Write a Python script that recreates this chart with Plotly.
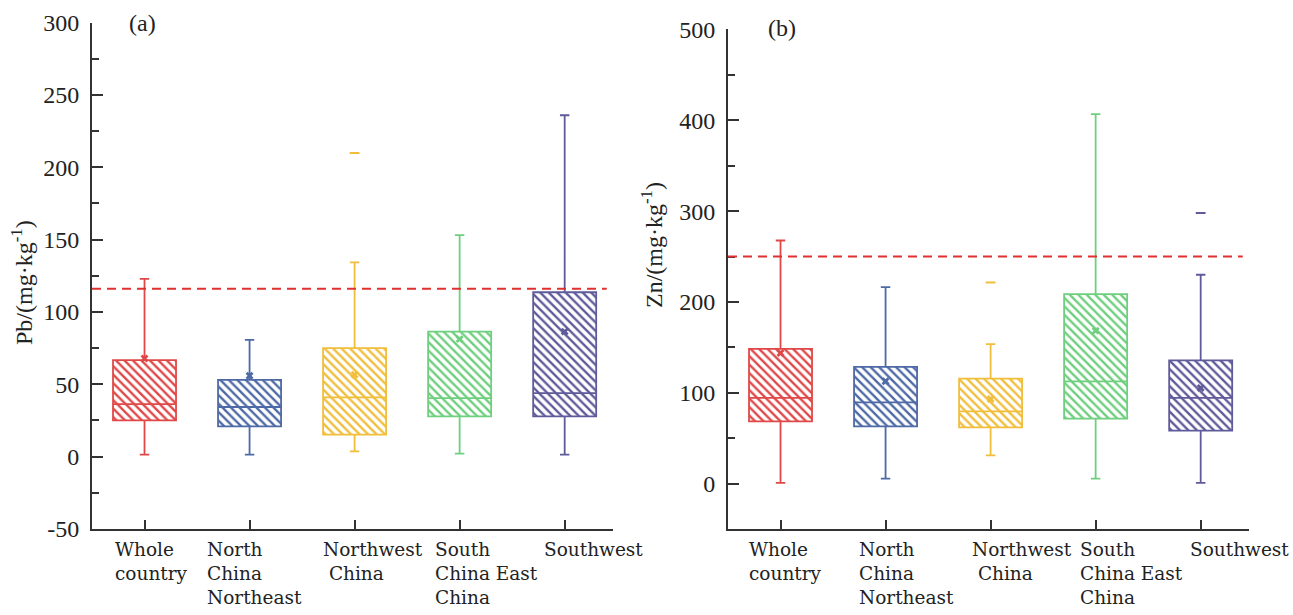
import plotly.graph_objects as go

# ---------------- data ----------------
categories = ["Whole<br>country", "North<br>China<br>Northeast", "Northwest<br>\u00a0China",
              "South<br>China East<br>China", "Southwest"]
positions = [1, 2, 3, 4, 5]

pb_q1 = [25.0, 20.9, 15.2, 27.8, 27.8]
pb_median = [36.3, 34.3, 40.9, 40.5, 43.9]
pb_q3 = [66.7, 53.1, 75.0, 86.4, 113.6]
pb_low = [1.4, 1.4, 3.7, 2.1, 1.4]
pb_high = [122.8, 80.7, 134.3, 153.1, 235.9]
pb_mean = [67.8, 55.9, 56.6, 81.2, 86.4]
pb_outlier_x = [3]
pb_outlier_y = [209.9]
pb_limit = 116

zn_q1 = [68.8, 63.3, 62.2, 71.8, 58.6]
zn_median = [94.5, 89.7, 79.8, 112.8, 94.5]
zn_q3 = [148.4, 128.6, 115.7, 208.8, 135.8]
zn_low = [1.1, 5.8, 31.4, 5.8, 1.1]
zn_high = [267.7, 216.5, 153.8, 406.6, 230.0]
zn_mean = [144.0, 112.8, 93.4, 168.5, 105.5]
zn_outlier_x = [3, 5]
zn_outlier_y = [221.5, 297.8]
zn_limit = 250

pb_ticks = [-50, 0, 50, 100, 150, 200, 250, 300]
zn_ticks = [0, 100, 200, 300, 400, 500]

# ---------------- style ----------------
colors = ["#E04848", "#4E6AA6", "#F1BE3C", "#6ECF7E", "#5F5B9B"]
W, H = 1293, 615
serif = "Liberation Serif, Times New Roman, serif"
label_font = "DejaVu Serif, serif"
label_shift_a = [-32, -45, -34, -27, -23]
label_shift_b = [-34, -29, -21, -18, -13]


def fx(px):
    return px / W


def fy(py):
    return (H - py) / H


fig = go.Figure()


def add_panel(xref, yref, q1, med, q3, low, high, mean, ox, oy):
    # hatched box fill
    fig.add_trace(go.Bar(
        x=positions, y=[b - a for a, b in zip(q1, q3)], base=q1, width=0.6,
        marker=dict(color=colors, line=dict(width=0),
                    pattern=dict(shape="\\", size=6, solidity=0.4, bgcolor="white",
                                 fillmode="replace")),
        xaxis=xref, yaxis=yref, showlegend=False, hoverinfo="skip"))
    for i, p in enumerate(positions):
        fig.add_trace(go.Box(
            x=[p], q1=[q1[i]], median=[med[i]], q3=[q3[i]],
            lowerfence=[low[i]], upperfence=[high[i]],
            width=0.6, whiskerwidth=0.15, boxpoints=False,
            line=dict(color=colors[i], width=1.8), fillcolor="rgba(0,0,0,0)",
            xaxis=xref, yaxis=yref, showlegend=False))
    fig.add_trace(go.Scatter(
        x=positions, y=mean, mode="markers",
        marker=dict(symbol="x", size=7, color=colors),
        xaxis=xref, yaxis=yref, showlegend=False))
    fig.add_trace(go.Scatter(
        x=ox, y=oy, mode="markers",
        marker=dict(symbol="line-ew", size=7, line=dict(width=2,
                    color=[colors[positions.index(v)] for v in ox])),
        xaxis=xref, yaxis=yref, showlegend=False))


add_panel("x", "y", pb_q1, pb_median, pb_q3, pb_low, pb_high, pb_mean,
          pb_outlier_x, pb_outlier_y)
add_panel("x2", "y2", zn_q1, zn_median, zn_q3, zn_low, zn_high, zn_mean,
          zn_outlier_x, zn_outlier_y)

axis_common = dict(showline=True, linecolor="#333", linewidth=2, ticks="inside",
                   tickcolor="#333", tickwidth=2, showgrid=False, zeroline=False,
                   mirror=False, automargin=False)

fig.update_layout(
    width=W, height=H, margin=dict(l=0, r=0, t=0, b=0, autoexpand=False),
    paper_bgcolor="white", plot_bgcolor="white",
    barmode="overlay", boxmode="overlay",
    xaxis=dict(domain=[fx(92), fx(613)], range=[0.5, 5.46], tickvals=positions,
               ticktext=[""] * 5, ticklen=9, anchor="y", **axis_common),
    yaxis=dict(domain=[fy(529), fy(22.5)], range=[-50, 300], tickvals=pb_ticks,
               ticktext=[str(v) for v in pb_ticks],
               ticklen=11, anchor="x", ticklabelstandoff=6,
               tickfont=dict(family=serif, size=24, color="#222"),
               minor=dict(dtick=25, ticks="inside", ticklen=7, tickcolor="#333", tickwidth=2),
               **axis_common),
    xaxis2=dict(domain=[fx(728), fx(1249)], range=[0.5, 5.46], tickvals=positions,
                ticktext=[""] * 5, ticklen=9, anchor="y2", **axis_common),
    yaxis2=dict(domain=[fy(529.3), fy(29.3)], range=[-50, 500], tickvals=zn_ticks,
                ticktext=[str(v) for v in zn_ticks],
                ticklen=11, anchor="x2", ticklabelstandoff=6,
                tickfont=dict(family=serif, size=24, color="#222"),
                minor=dict(dtick=50, ticks="inside", ticklen=7, tickcolor="#333", tickwidth=2),
                **axis_common),
    shapes=[
        dict(type="line", xref="x domain", yref="y", x0=0, x1=0.988, y0=pb_limit, y1=pb_limit,
             line=dict(color="#E0302F", width=2, dash="9px,6px"), layer="above"),
        dict(type="line", xref="x2 domain", yref="y2", x0=0, x1=0.988, y0=zn_limit, y1=zn_limit,
             line=dict(color="#E0302F", width=2, dash="9px,6px"), layer="above"),
    ],
)

annotations = []
for i, p in enumerate(positions):
    annotations.append(dict(x=p, xref="x", y=0, yref="y domain", yanchor="top", xanchor="left",
                            align="left", text=categories[i], showarrow=False,
                            xshift=label_shift_a[i], yshift=-8,
                            font=dict(family=label_font, size=18.5, color="#222")))
    annotations.append(dict(x=p, xref="x2", y=0, yref="y2 domain", yanchor="top", xanchor="left",
                            align="left", text=categories[i], showarrow=False,
                            xshift=label_shift_b[i], yshift=-8,
                            font=dict(family=label_font, size=18.5, color="#222")))

annotations += [
    dict(x=fx(142), y=fy(23), xref="paper", yref="paper", text="(a)", showarrow=False,
         xanchor="center", yanchor="middle",
         font=dict(family=serif, size=24, color="#222")),
    dict(x=fx(782), y=fy(28), xref="paper", yref="paper", text="(b)", showarrow=False,
         xanchor="center", yanchor="middle",
         font=dict(family=serif, size=24, color="#222")),
    dict(x=fx(22), y=fy(283), xref="paper", yref="paper", text="Pb/(mg·kg<sup>-1</sup>)",
         xanchor="center", yanchor="middle",
         textangle=-90, showarrow=False, font=dict(family=serif, size=24, color="#222")),
    dict(x=fx(652), y=fy(245), xref="paper", yref="paper", text="Zn/(mg·kg<sup>-1</sup>)",
         xanchor="center", yanchor="middle",
         textangle=-90, showarrow=False, font=dict(family=serif, size=24, color="#222")),
]
fig.update_layout(annotations=annotations)

fig.write_html("out.html")
